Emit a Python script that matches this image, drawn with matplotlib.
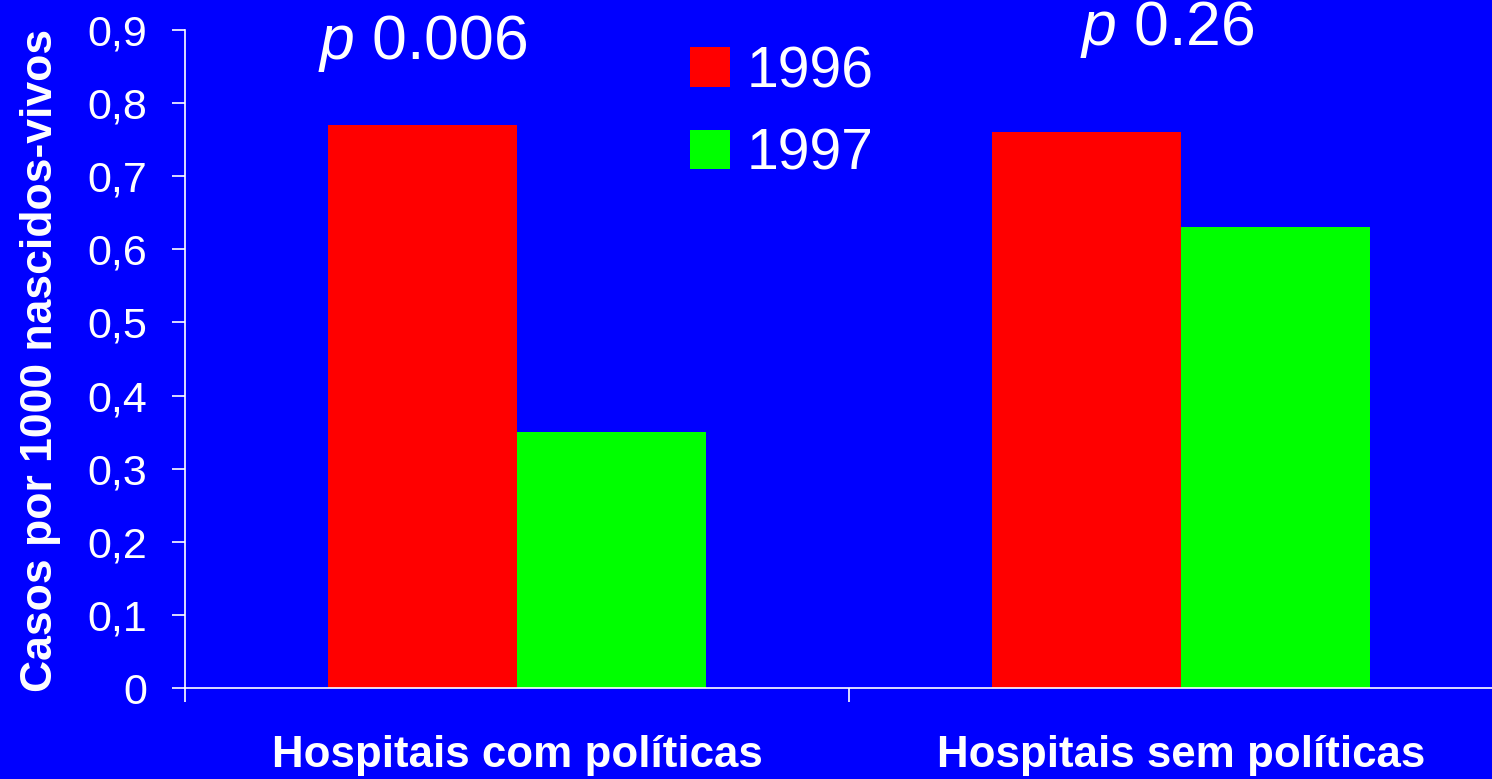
import matplotlib
matplotlib.use("Agg")
import matplotlib.pyplot as plt
import numpy as np

plt.rcParams['font.family'] = ['Liberation Sans', 'DejaVu Sans']
plt.rcParams['mathtext.fontset'] = 'custom'
plt.rcParams['mathtext.rm'] = 'Liberation Sans'
plt.rcParams['mathtext.it'] = 'Liberation Sans:italic'

categories = ["Hospitais com políticas", "Hospitais sem políticas"]
series_names = ["1996", "1997"]
values_1996 = [0.77, 0.76]
values_1997 = [0.35, 0.63]
p_labels = ["$p$ 0.006", "$p$ 0.26"]
y_ticks = [0, 0.1, 0.2, 0.3, 0.4, 0.5, 0.6, 0.7, 0.8, 0.9]
y_tick_labels = ["0", "0,1", "0,2", "0,3", "0,4", "0,5", "0,6", "0,7", "0,8", "0,9"]
y_label = "Casos por 1000 nascidos-vivos"

BLUE = "#0000FF"
W, H = 1492, 779
fig = plt.figure(figsize=(W / 100, H / 100), dpi=100, facecolor=BLUE)
ax = fig.add_axes([185 / W, (H - 688) / H, (1492 - 185) / W, (688 - 30) / H])
ax.set_facecolor(BLUE)

x = np.arange(len(categories))
w = 0.285
ax.bar(x - w / 2, values_1996, w, color="#FF0000", label=series_names[0])
ax.bar(x + w / 2, values_1997, w, color="#00FF00", label=series_names[1])

ax.set_ylim(0, 0.9)
ax.set_xlim(-0.5, -0.5 + 1307 / 664)

for s in ["top", "right"]:
    ax.spines[s].set_visible(False)
for s in ["left", "bottom"]:
    ax.spines[s].set_color("white")
    ax.spines[s].set_linewidth(1.2)

ax.set_yticks(y_ticks)
ax.set_yticklabels(y_tick_labels, fontsize=31, color="white")
ax.tick_params(axis="y", colors="white", length=9.5, width=1.2, pad=18, labelcolor="white")

ax.set_xticks(x)
ax.set_xticklabels(categories, fontsize=31.6, fontweight="bold", color="white")
ax.tick_params(axis="x", which="major", length=0, pad=34, labelcolor="white")
ax.set_xticks([-0.5, 0.5], minor=True)
ax.tick_params(axis="x", which="minor", length=10, width=1.2, colors="white")

fig.text(41 / W, 1 - 360 / H, y_label, rotation=90, ha="center", va="center",
         fontsize=32, fontweight="bold", color="white")

p_pos = [(-0.142, 0.86), (0.979, 0.88)]
for (px, py), lab in zip(p_pos, p_labels):
    ax.text(px, py, lab, ha="center", va="baseline", fontsize=45, color="white", clip_on=False)

leg = ax.legend(loc="upper left", bbox_to_anchor=(690 / W, 1 - 45 / H),
                bbox_transform=fig.transFigure, frameon=False, fontsize=41,
                handlelength=0.7, handleheight=0.7, handletextpad=0.3,
                labelspacing=0.5, borderpad=0, borderaxespad=0)
for t in leg.get_texts():
    t.set_color("white")

fig.savefig("out.png", dpi=100, facecolor=BLUE)
